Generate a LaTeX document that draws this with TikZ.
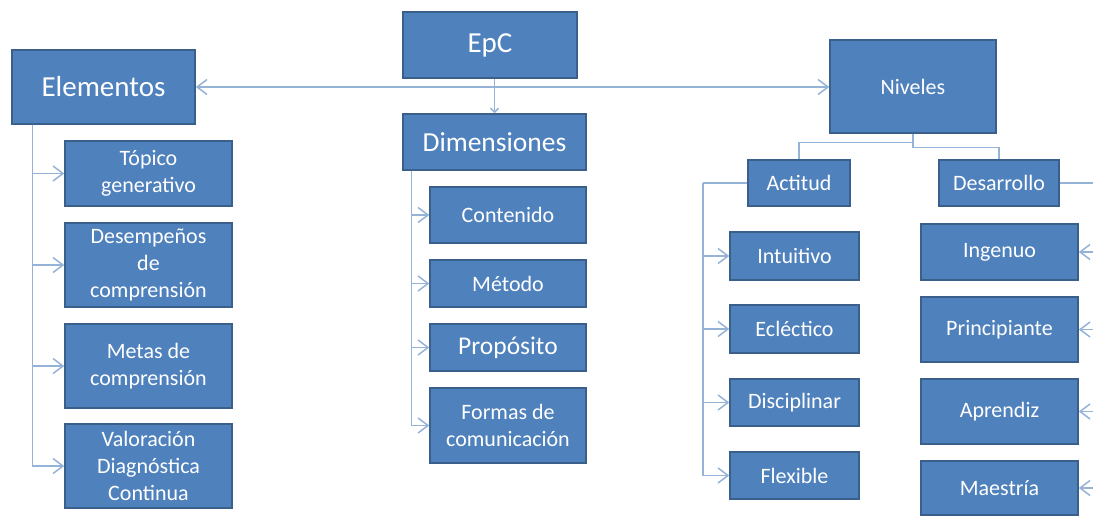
\documentclass[tikz,border=0pt]{standalone}
\usepackage{fontspec}
\setmainfont{Carlito}
\usetikzlibrary{positioning,arrows,arrows.meta,calc}
\definecolor{azul}{HTML}{4F81BD}
\definecolor{borde}{HTML}{3A5F8B}
\definecolor{linea}{HTML}{95B3D7}
\tikzstyle{caja} = [draw=borde, fill=azul, text=white, line width=1.5pt, align=center, inner sep=0pt, font=\fontsize{22}{27}\selectfont]
\tikzstyle{grande} = [font=\fontsize{29}{32}\selectfont]
\tikzstyle{con} = [draw=linea, line width=1.5pt]
\tikzstyle{flecha} = [con, -{Straight Barb[length=10pt,width=15pt]}]

\begin{document}
\begin{tikzpicture}[x=1pt,y=-1pt]
      \clip (0,0) rectangle (1093,516);
      \useasboundingbox (0,0) rectangle (1093,516);
      \node[caja,grande,minimum width=174pt,minimum height=66pt] (epc) at (490,45) {EpC};
      \node[caja,grande,minimum width=183pt,minimum height=74pt] (ele) at (103.5,87) {Elementos};
      \node[caja,grande,minimum width=183pt,minimum height=56pt,font=\fontsize{27.5}{30}\selectfont] (dim) at (494.5,142) {Dimensiones};
      \node[caja,minimum width=166pt,minimum height=93pt] (niv) at (913,86.5) {Niveles};
      % elementos
      \node[caja,minimum width=167pt,minimum height=65pt] (top) at (148.5,173.5) {Tópico\\generativo};
      \node[caja,minimum width=167pt,minimum height=84pt] (dese) at (148.5,265) {Desempeños\\de\\comprensión};
      \node[caja,minimum width=167pt,minimum height=84pt] (met) at (148.5,366) {Metas de\\comprensión};
      \node[caja,minimum width=167pt,minimum height=84pt] (val) at (148.5,466) {Valoración\\Diagnóstica\\Continua};
      % dimensiones
      \node[caja,minimum width=156pt,minimum height=56pt] (cont) at (508,215) {Contenido};
      \node[caja,minimum width=156pt,minimum height=47pt] (meto) at (508,283.5) {Método};
      \node[caja,minimum width=156pt,minimum height=47pt,font=\fontsize{25.5}{28}\selectfont] (prop) at (508,347.5) {Propósito};
      \node[caja,minimum width=156pt,minimum height=75pt] (form) at (508,425.5) {Formas de\\comunicación};
      % niveles
      \node[caja,minimum width=102pt,minimum height=46pt] (act) at (799,183) {Actitud};
      \node[caja,minimum width=120pt,minimum height=46pt] (desa) at (999,183) {Desarrollo};
      \node[caja,minimum width=129pt,minimum height=48pt] (int) at (794.5,256) {Intuitivo};
      \node[caja,minimum width=129pt,minimum height=48pt] (ecl) at (794.5,329) {Ecléctico};
      \node[caja,minimum width=129pt,minimum height=47pt] (dis) at (794.5,402.5) {Disciplinar};
      \node[caja,minimum width=129pt,minimum height=47pt] (fle) at (794.5,475.5) {Flexible};
      \node[caja,minimum width=157pt,minimum height=56pt] (ing) at (999.5,252) {Ingenuo};
      \node[caja,minimum width=157pt,minimum height=65pt] (pri) at (999.5,329.5) {Principiante};
      \node[caja,minimum width=157pt,minimum height=65pt] (apr) at (999.5,411.5) {Aprendiz};
      \node[caja,minimum width=157pt,minimum height=54pt] (mae) at (999.5,488) {Maestría};
      % conectores
      \draw[flecha,{Straight Barb[length=10pt,width=15pt]}-{Straight Barb[length=10pt,width=15pt]}] (ele.east) -- (niv.west |- ele.east);
      \draw[flecha,-{Straight Barb[length=4pt,width=8pt]}] (dim.north |- epc.south) -- (dim.north);
      \coordinate (te) at ([xshift=21pt]ele.south west);
      \foreach \n in {top,dese,met,val}
        \draw[flecha] (te) |- (\n.west);
      \coordinate (td) at ([xshift=9pt]dim.south west);
      \foreach \n in {cont,meto,prop,form}
        \draw[flecha] (td) |- (\n.west);
      \draw[con] (niv.south) -- ++(0,9) -| (act.north);
      \draw[con] (niv.south) -- ++(0,14) -| (desa.north);
      \coordinate (ta) at (703,183);
      \draw[con] (act.west) -- (ta);
      \foreach \n in {int,ecl,dis,fle}
        \draw[flecha] (ta) |- (\n.west);
      \coordinate (tr) at (1110,183);
      \draw[con] (desa.east) -- (tr);
      \foreach \n in {ing,pri,apr,mae}
        \draw[flecha] (tr) |- (\n.east);
\end{tikzpicture}
\end{document}
